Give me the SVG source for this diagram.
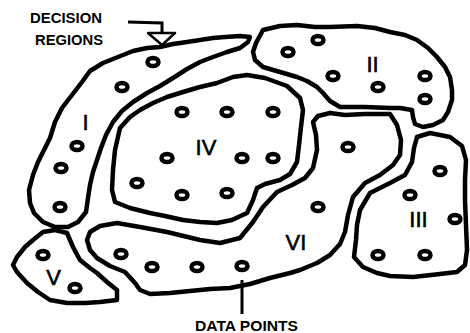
<svg xmlns="http://www.w3.org/2000/svg" width="470" height="333" viewBox="0 0 470 333">
<style>
.region{fill:none;stroke:#000;stroke-width:4.5;stroke-linejoin:round;stroke-linecap:round}
.dot{fill:none;stroke:#000;stroke-width:4.5}
.num{font-family:"Liberation Sans",Arial,sans-serif;font-size:22px;fill:#000;stroke:#000;stroke-width:0.6;text-anchor:middle}
.lbl{font-family:"Liberation Sans",Arial,sans-serif;font-size:14.5px;font-weight:bold;fill:#000}
.conn{fill:none;stroke:#000;stroke-width:3}
</style>
<defs>
<ellipse id="d" cx="0" cy="0" rx="5.5" ry="4" class="dot"/>
</defs>
<rect width="470" height="333" fill="#fff"/>

<g id="region-I">
<path class="region" d="M250,37 L240,36 L225,37 L213,38 L200,40 L187,42 L173,44 L160,47 L147,48 L133,51 L118,57 L103,63 L90,71 L82,82 L72,95 L62,108 L55,122 L50,138 L44,150 L38,162 L33,175 L29,190 L30,203 L34,213 L43,222 L55,227 L68,227 L78,222 L86,212 L88,198 L90,185 L93,172 L97,160 L101,148 L106,135 L113,122 L122,111 L133,102 L147,93 L160,86 L173,78 L187,69 L200,62 L213,57 L227,52 L240,48 L248,42 Z"/>
<use href="#d" x="153" y="62"/><use href="#d" x="122" y="87"/><use href="#d" x="77" y="146"/><use href="#d" x="61" y="168"/><use href="#d" x="60" y="207"/>
<text class="num" x="85.5" y="130">I</text>
</g>

<g id="region-II">
<path class="region" d="M263,30 L280,26 L297,25 L315,27 L330,27 L357,26 L375,28 L390,32 L405,35 L417,40 L428,48 L437,57 L445,67 L450,77 L452,90 L452,100 L448,112 L443,120 L433,125 L423,127 L415,124 L413,117 L412,110 L400,108 L390,108 L365,107 L340,107 L330,101 L323,93 L317,87 L307,81 L297,77 L280,72 L263,67 L255,60 L253,52 L256,43 Z"/>
<use href="#d" x="318" y="40"/><use href="#d" x="288" y="52"/><use href="#d" x="333" y="76"/><use href="#d" x="378" y="87"/><use href="#d" x="425" y="76"/><use href="#d" x="425" y="99"/>
<text class="num" x="372.5" y="72">II</text>
</g>

<g id="region-III">
<path class="region" d="M417,137 L430,133 L450,137 L462,146 L466,160 L465,180 L465,200 L466,225 L467,250 L465,265 L457,272 L440,274 L413,277 L390,276 L377,273 L363,267 L354,257 L356,240 L357,225 L360,210 L370,193 L390,183 L405,175 L412,162 L414,148 Z"/>
<use href="#d" x="440" y="171"/><use href="#d" x="410" y="195"/><use href="#d" x="455" y="219"/><use href="#d" x="378" y="255"/><use href="#d" x="425" y="255"/>
<text class="num" x="418.5" y="227">III</text>
</g>

<g id="region-IV">
<path class="region" d="M247,75 L265,78 L287,86 L300,98 L303,110 L301,127 L299,145 L297,162 L290,174 L280,180 L265,184 L257,188 L253,200 L247,213 L232,220 L217,223 L200,222 L183,220 L165,216 L150,213 L130,208 L115,202 L112,190 L113,170 L115,150 L120,128 L130,117 L140,110 L153,103 L167,97 L183,92 L200,87 L217,83 L233,77 Z"/>
<use href="#d" x="182" y="112"/><use href="#d" x="227" y="112"/><use href="#d" x="273" y="112"/><use href="#d" x="167" y="158"/><use href="#d" x="242" y="158"/><use href="#d" x="273" y="158"/><use href="#d" x="137" y="183"/><use href="#d" x="182" y="195"/><use href="#d" x="227" y="193"/>
<text class="num" x="206" y="155">IV</text>
</g>

<g id="region-V">
<path class="region" d="M43,232 L55,230 L67,233 L73,247 L80,260 L90,268 L97,273 L107,282 L117,290 L117,300 L100,302 L85,303 L67,303 L50,300 L38,292 L27,283 L17,272 L13,265 L17,257 L25,247 L33,240 Z"/>
<use href="#d" x="43" y="255"/><use href="#d" x="75" y="288"/>
<text class="num" x="53.5" y="285">V</text>
</g>

<g id="region-VI">
<path class="region" d="M90,232 L100,226 L117,223 L140,227 L167,232 L200,240 L220,243 L240,238 L253,222 L263,207 L277,192 L292,185 L305,178 L313,168 L317,150 L316,135 L313,122 L318,116 L330,113 L345,115 L365,114 L390,114 L397,125 L401,140 L400,155 L393,165 L380,175 L365,183 L353,197 L348,215 L345,232 L340,244 L330,255 L317,263 L300,270 L290,273 L270,278 L250,284 L230,288 L210,289 L190,291 L170,293 L150,294 L140,290 L135,283 L125,272 L110,266 L97,258 L90,250 L87,240 Z"/>
<use href="#d" x="348" y="147"/><use href="#d" x="318" y="207"/><use href="#d" x="121" y="254"/><use href="#d" x="152" y="267"/><use href="#d" x="197" y="267"/><use href="#d" x="242" y="266"/>
<text class="num" x="296" y="250">VI</text>
</g>

<g id="connectors">
<path class="conn" d="M128,22 L162,23 L162,33"/>
<path d="M148,33 L175,33 L162,45 Z" fill="#fff" stroke="#000" stroke-width="2.5" stroke-linejoin="round"/>
<path class="conn" d="M242,280 L242,314"/>
</g>

<g id="labels">
<text class="lbl" x="30" y="23" textLength="72" lengthAdjust="spacingAndGlyphs">DECISION</text>
<text class="lbl" x="35" y="45" textLength="68" lengthAdjust="spacingAndGlyphs">REGIONS</text>
<text class="lbl" x="195" y="331" textLength="103" lengthAdjust="spacingAndGlyphs">DATA POINTS</text>
</g>
</svg>
